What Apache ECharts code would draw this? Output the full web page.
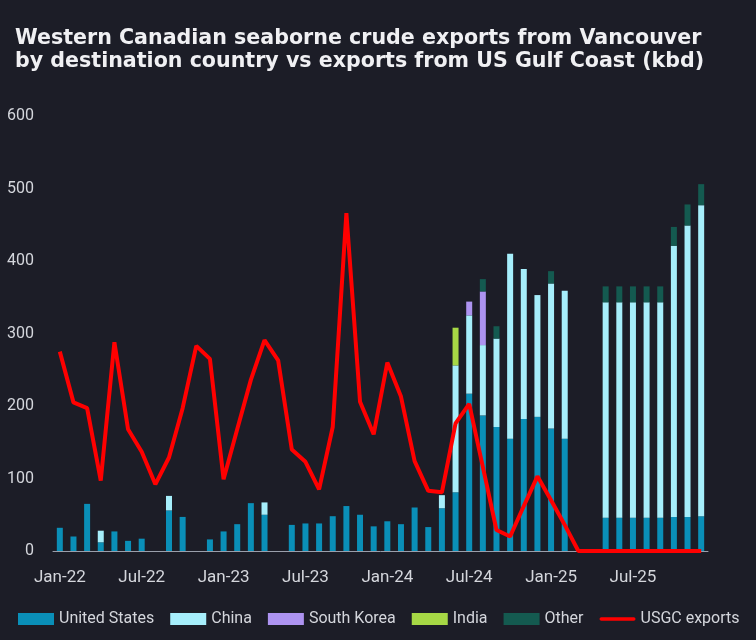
<!DOCTYPE html>
<html>
<head>
<meta charset="utf-8">
<script src="https://cdn.jsdelivr.net/npm/echarts@6/dist/echarts.min.js"></script>
<style>
html,body{margin:0;padding:0;background:#1c1d27;}
#chart{width:756px;height:640px;}
</style>
</head>
<body>
<div id="chart"></div>
<script>
var months = [
	'Jan-22','Feb-22','Mar-22','Apr-22','May-22','Jun-22','Jul-22','Aug-22','Sep-22','Oct-22','Nov-22','Dec-22',
	'Jan-23','Feb-23','Mar-23','Apr-23','May-23','Jun-23','Jul-23','Aug-23','Sep-23','Oct-23','Nov-23','Dec-23',
	'Jan-24','Feb-24','Mar-24','Apr-24','May-24','Jun-24','Jul-24','Aug-24','Sep-24','Oct-24','Nov-24','Dec-24',
	'Jan-25','Feb-25','Mar-25','Apr-25','May-25','Jun-25','Jul-25','Aug-25','Sep-25','Oct-25','Nov-25','Dec-25'
];
var unitedStates = [
	32, 20, 65, 12, 27, 14, 17, 0, 56, 47, 0, 16,
	27, 37, 66, 50, 0, 36, 38, 38, 48, 62, 50, 34,
	41, 37, 60, 33, 59, 81, 217, 187, 171, 155, 182, 185,
	169, 155, 0, 0, 46, 46, 46, 46, 46, 47, 47, 48
];
var china = [
	0, 0, 0, 16, 0, 0, 0, 0, 20, 0, 0, 0,
	0, 0, 0, 17, 0, 0, 0, 0, 0, 0, 0, 0,
	0, 0, 0, 0, 18, 175, 108, 97, 122, 255, 207, 168,
	200, 204, 0, 0, 297, 297, 297, 297, 297, 374, 402, 429
];
var southKorea = [
	0, 0, 0, 0, 0, 0, 0, 0, 0, 0, 0, 0,
	0, 0, 0, 0, 0, 0, 0, 0, 0, 0, 0, 0,
	0, 0, 0, 0, 0, 0, 19, 74, 0, 0, 0, 0,
	0, 0, 0, 0, 0, 0, 0, 0, 0, 0, 0, 0
];
var india = [
	0, 0, 0, 0, 0, 0, 0, 0, 0, 0, 0, 0,
	0, 0, 0, 0, 0, 0, 0, 0, 0, 0, 0, 0,
	0, 0, 0, 0, 0, 52, 0, 0, 0, 0, 0, 0,
	0, 0, 0, 0, 0, 0, 0, 0, 0, 0, 0, 0
];
var other = [
	0, 0, 0, 0, 0, 0, 0, 0, 0, 0, 0, 0,
	0, 0, 0, 0, 0, 0, 0, 0, 0, 0, 0, 0,
	0, 0, 0, 0, 0, 0, 0, 17, 17, 0, 0, 0,
	17, 0, 0, 0, 22, 22, 22, 22, 22, 26, 29, 29
];
var usgcExports = [
	275, 205, 197, 97, 288, 168, 137, 92, 129, 197, 283, 265,
	99, 168, 236, 291, 263, 140, 123, 85, 171, 466, 206, 161,
	260, 213, 124, 83, 81, 176, 203, 116, 29, 20, 62, 103,
	70, 36, 0, 0, 0, 0, 0, 0, 0, 0, 0, 0
];

var chart = echarts.init(document.getElementById('chart'));
var textColor = '#d4d6dc';
var barSeries = function (name, data, color) {
	return {
		name: name,
		type: 'bar',
		stack: 'dest',
		barWidth: 6,
		itemStyle: {color: color},
		data: data
	};
};
var option = {
	backgroundColor: '#1c1d27',
	animation: false,
	title: {
		text: 'Western Canadian seaborne crude exports from Vancouver\nby destination country vs exports from US Gulf Coast (kbd)',
		left: 10,
		top: 22,
		textStyle: {
			color: '#f0f0f3',
			fontFamily: 'DejaVu Sans',
			fontWeight: 'bold',
			fontSize: 20.6,
			lineHeight: 23
		}
	},
	legend: {
		left: 13,
		top: 606,
		width: 740,
		itemWidth: 36,
		itemHeight: 12,
		itemGap: 16,
		textStyle: {color: textColor, fontFamily: 'Roboto', fontSize: 16},
		data: [
			{name: 'United States', icon: 'rect'},
			{name: 'China', icon: 'rect'},
			{name: 'South Korea', icon: 'rect'},
			{name: 'India', icon: 'rect'},
			{name: 'Other', icon: 'rect'},
			{name: 'USGC exports', icon: 'path://M2,0H38A2,2,0,0,1,38,4H2A2,2,0,0,1,2,0Z'}
		]
	},
	grid: {
		left: 53,
		right: 48,
		top: 116,
		bottom: 89
	},
	xAxis: {
		type: 'category',
		data: months,
		boundaryGap: true,
		axisLine: {lineStyle: {color: '#9a9fab', width: 1}},
		axisTick: {interval: 5, length: 5, lineStyle: {color: '#9a9fab'}},
		axisLabel: {interval: 5, color: textColor, fontFamily: 'Roboto', fontSize: 17, margin: 18}
	},
	yAxis: {
		type: 'value',
		min: 0,
		max: 600,
		interval: 100,
		axisLine: {show: false},
		axisTick: {show: false},
		splitLine: {show: false},
		axisLabel: {color: textColor, fontFamily: 'Roboto', fontSize: 16, margin: 19}
	},
	series: [
		barSeries('United States', unitedStates, '#0a8fb8'),
		barSeries('China', china, '#a6eefb'),
		barSeries('South Korea', southKorea, '#ad93f0'),
		barSeries('India', india, '#a6d845'),
		barSeries('Other', other, '#145a50'),
		{
			name: 'USGC exports',
			type: 'line',
			symbol: 'none',
			lineStyle: {color: '#ff0000', width: 4},
			itemStyle: {color: '#ff0000'},
			z: 5,
			data: usgcExports
		}
	]
};
chart.setOption(option);
</script>
</body>
</html>
